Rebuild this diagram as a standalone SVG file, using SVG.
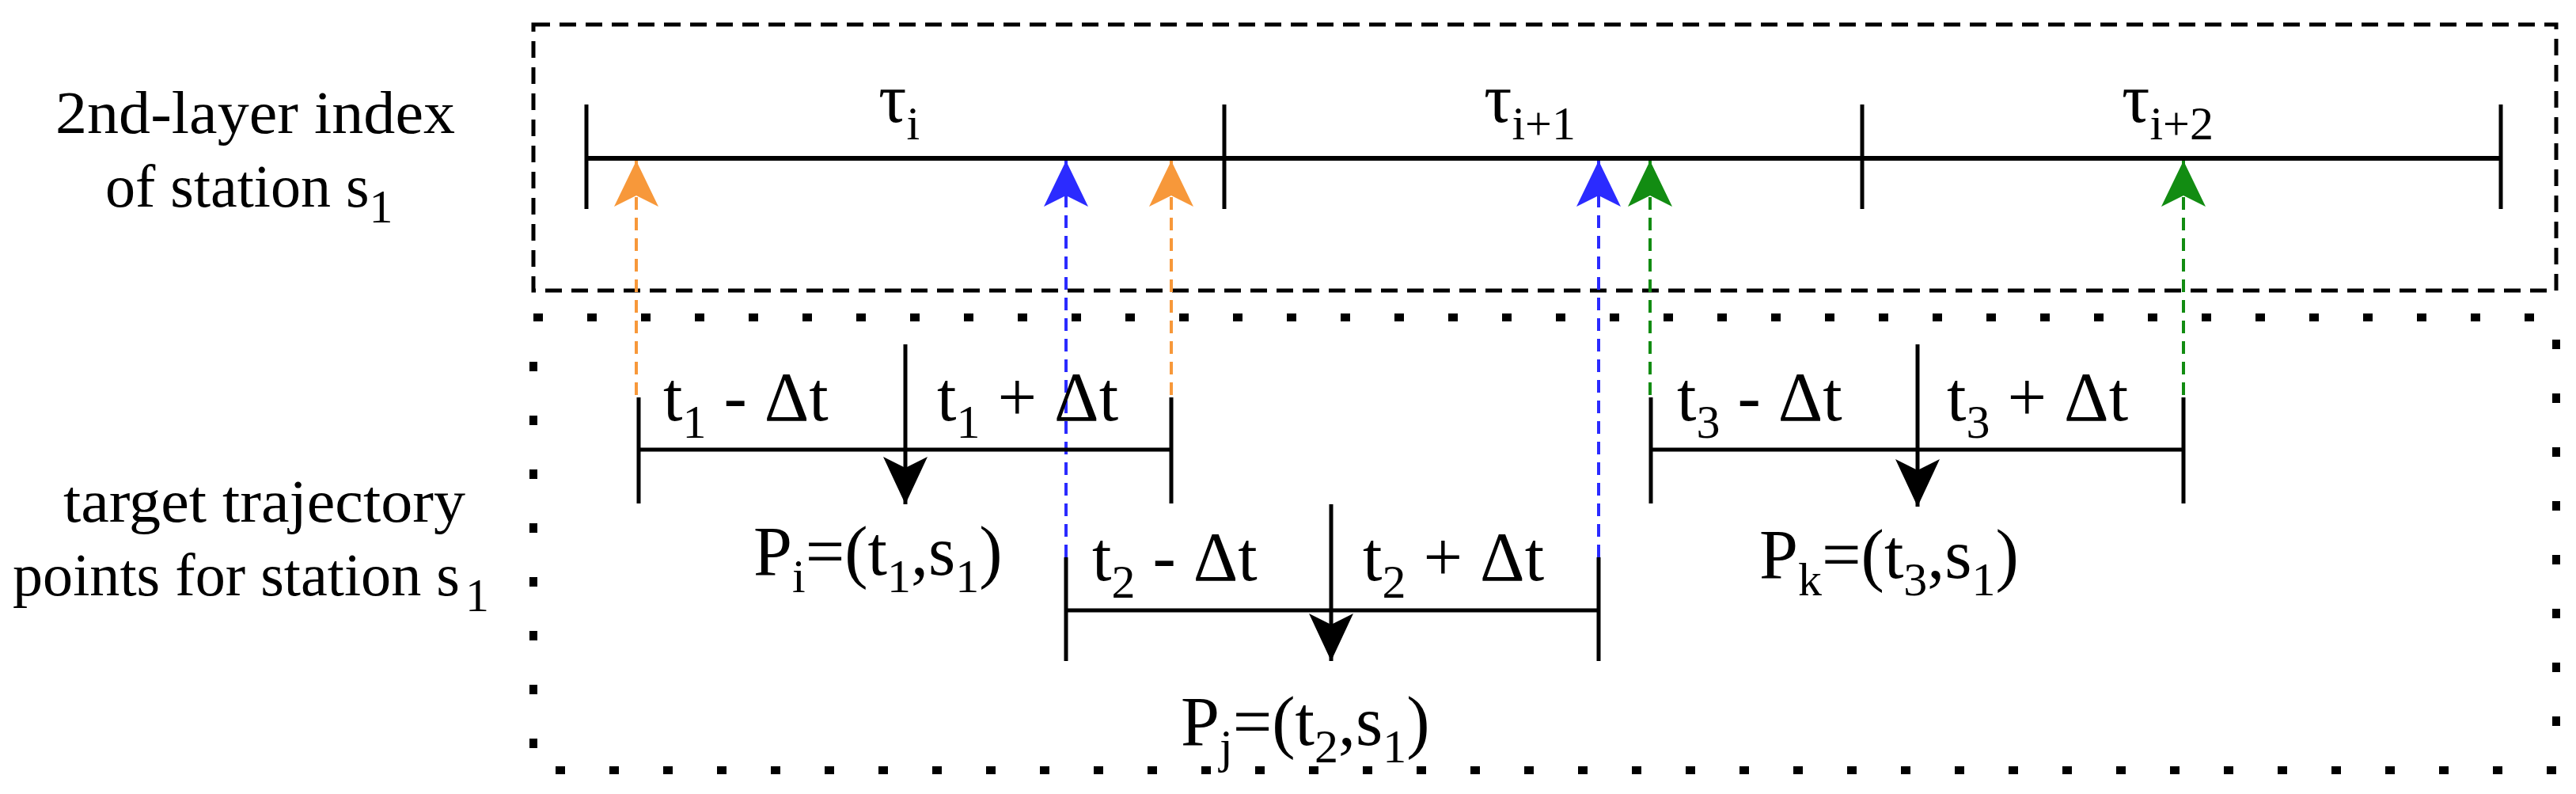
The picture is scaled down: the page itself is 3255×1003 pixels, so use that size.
<svg xmlns="http://www.w3.org/2000/svg" width="3255" height="1003" viewBox="0 0 3255 1003" font-family="'Liberation Serif', 'DejaVu Serif', serif">
<style>
text{font-family:'Liberation Serif','DejaVu Serif',serif;fill:#000}
.lbl{font-size:76px}
.m{font-size:88px}
.s{font-size:60px}
.k{stroke:#000;stroke-width:5;fill:none}
.tl{stroke:#000;stroke-width:6;fill:none}
.or{stroke:#f7983a;stroke-width:4;stroke-dasharray:16 10;fill:none}
.bl{stroke:#2b2bff;stroke-width:4;stroke-dasharray:16 10;fill:none}
.gr{stroke:#128c12;stroke-width:4;stroke-dasharray:16 10;fill:none}
</style>
<defs>
<marker id="ao" markerUnits="userSpaceOnUse" markerWidth="60" markerHeight="60" viewBox="0 0 60 60" refX="30" refY="0"><path d="M30 0 L58 58 L30 44 L2 58Z" fill="#f7983a"/></marker>
<marker id="ab" markerUnits="userSpaceOnUse" markerWidth="60" markerHeight="60" viewBox="0 0 60 60" refX="30" refY="0"><path d="M30 0 L58 58 L30 44 L2 58Z" fill="#2b2bff"/></marker>
<marker id="ag" markerUnits="userSpaceOnUse" markerWidth="60" markerHeight="60" viewBox="0 0 60 60" refX="30" refY="0"><path d="M30 0 L58 58 L30 44 L2 58Z" fill="#128c12"/></marker>
<marker id="ak" markerUnits="userSpaceOnUse" markerWidth="60" markerHeight="70" viewBox="0 0 60 70" refX="30" refY="64"><path d="M30 64 L58 4 L30 18 L2 4Z" fill="#000"/></marker>
</defs>
<g id="boxes">
<rect x="674" y="31" width="2556" height="336" fill="none" stroke="#000" stroke-width="5" stroke-dasharray="21 12"/>
<rect x="674" y="401" width="2556" height="572" fill="none" stroke="#000" stroke-width="10" stroke-dasharray="12 56"/>
</g>
<g id="side-labels">
<text class="lbl" x="70" y="168" textLength="505" lengthAdjust="spacingAndGlyphs">2nd-layer index</text>
<text class="lbl" x="133" y="261">of station s<tspan class="s" dy="20">1</tspan></text>
<text class="lbl" x="80" y="659" textLength="508" lengthAdjust="spacingAndGlyphs">target trajectory</text>
<text class="lbl" x="16" y="752" textLength="565" lengthAdjust="spacingAndGlyphs">points for station s</text>
<text class="s" x="588" y="772">1</text>
</g>
<g id="timeline">
<path class="tl" d="M741 200 H3160"/>
<path class="k" d="M741 132 V264 M1547 132 V264 M2353 132 V264 M3160 132 V264"/>
<text class="m" x="1110" y="154">τ<tspan class="s" dy="22">i</tspan></text>
<text class="m" x="1875" y="154">τ<tspan class="s" dy="22">i+1</tspan></text>
<text class="m" x="2681" y="154">τ<tspan class="s" dy="22">i+2</tspan></text>
</g>
<g id="connectors">
<path class="or" d="M804 499 V203" marker-end="url(#ao)"/>
<path class="or" d="M1480 499 V203" marker-end="url(#ao)"/>
<path class="bl" d="M1347 704 V203" marker-end="url(#ab)"/>
<path class="bl" d="M2020 704 V203" marker-end="url(#ab)"/>
<path class="gr" d="M2085 499 V203" marker-end="url(#ag)"/>
<path class="gr" d="M2759 499 V203" marker-end="url(#ag)"/>
</g>
<g id="interval1">
<path class="k" d="M807 502 V636 M1480 502 V636 M807 568 H1480"/>
<path class="k" d="M1144 435 V637" marker-end="url(#ak)"/>
<text class="m" x="838" y="531">t<tspan class="s" dy="22">1</tspan><tspan dy="-22"> - Δt</tspan></text>
<text class="m" x="1184" y="531">t<tspan class="s" dy="22">1</tspan><tspan dy="-22"> + Δt</tspan></text>
<text class="m" x="952" y="726">P<tspan class="s" dy="22">i</tspan><tspan dy="-22">=(t</tspan><tspan class="s" dy="22">1</tspan><tspan dy="-22">,s</tspan><tspan class="s" dy="22">1</tspan><tspan dy="-22">)</tspan></text>
</g>
<g id="interval2">
<path class="k" d="M1347 704 V835 M2020 704 V835 M1347 771 H2020"/>
<path class="k" d="M1682 637 V835" marker-end="url(#ak)"/>
<text class="m" x="1380" y="733">t<tspan class="s" dy="22">2</tspan><tspan dy="-22"> - Δt</tspan></text>
<text class="m" x="1722" y="733">t<tspan class="s" dy="22">2</tspan><tspan dy="-22"> + Δt</tspan></text>
<text class="m" x="1492" y="941">P<tspan class="s" dy="22">j</tspan><tspan dy="-22">=(t</tspan><tspan class="s" dy="22">2</tspan><tspan dy="-22">,s</tspan><tspan class="s" dy="22">1</tspan><tspan dy="-22">)</tspan></text>
</g>
<g id="interval3">
<path class="k" d="M2086 502 V636 M2759 502 V636 M2086 568 H2759"/>
<path class="k" d="M2423 435 V640" marker-end="url(#ak)"/>
<text class="m" x="2119" y="531">t<tspan class="s" dy="22">3</tspan><tspan dy="-22"> - Δt</tspan></text>
<text class="m" x="2460" y="531">t<tspan class="s" dy="22">3</tspan><tspan dy="-22"> + Δt</tspan></text>
<text class="m" x="2223" y="730">P<tspan class="s" dy="22">k</tspan><tspan dy="-22">=(t</tspan><tspan class="s" dy="22">3</tspan><tspan dy="-22">,s</tspan><tspan class="s" dy="22">1</tspan><tspan dy="-22">)</tspan></text>
</g>
</svg>
